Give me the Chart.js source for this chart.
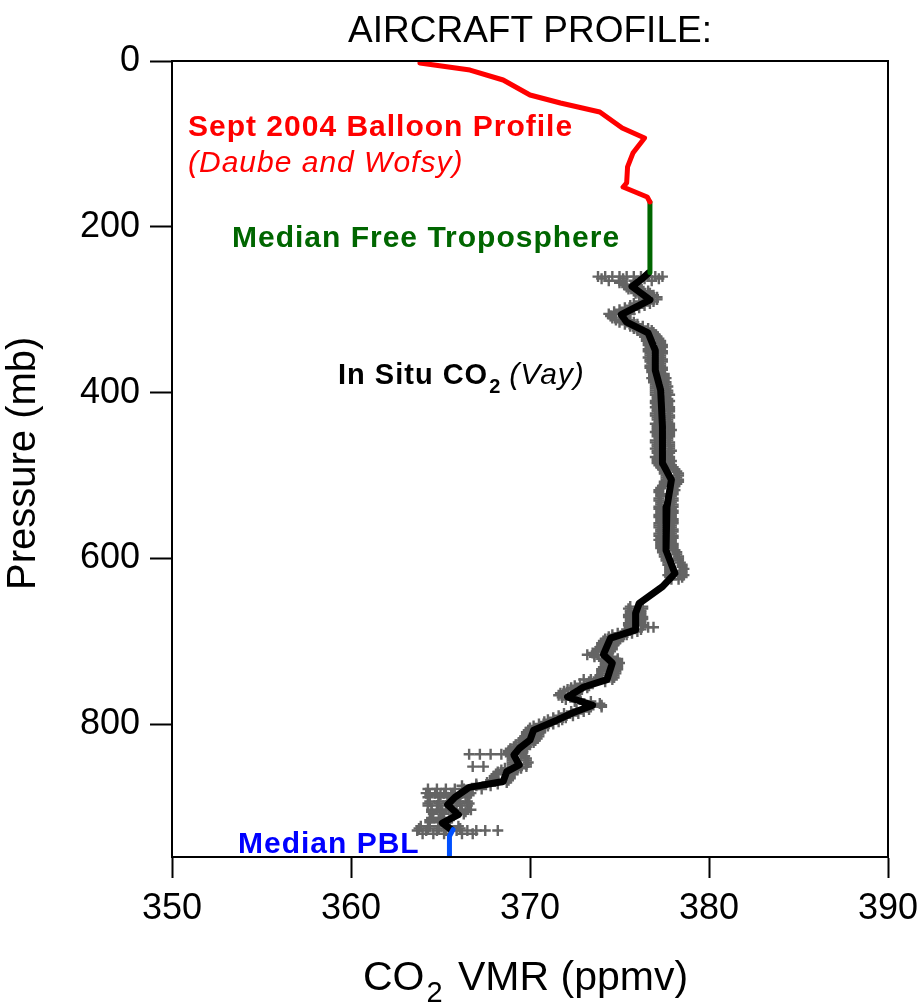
<!DOCTYPE html>
<html>
<head>
<meta charset="utf-8">
<script src="https://cdn.jsdelivr.net/npm/chart.js@4/dist/chart.umd.min.js"></script>
<style>
  html, body { margin: 0; padding: 0; background: #fff; }
  #wrap { width: 923px; height: 1005px; }
</style>
</head>
<body>
<div id="wrap"><canvas id="profileChart" width="923" height="1005"></canvas></div>
<script>
// Balloon profile (red)
const balloonP   = [2.4, 10.9, 22.9, 41.0, 50.7, 61.5, 80.8, 92.9, 111.0, 127.8, 147.1, 152.0, 164.0, 170.0];
const balloonCO2 = [363.85, 366.65, 368.5, 370.0, 371.7, 373.9, 375.15, 376.4, 375.75, 375.45, 375.4, 375.2, 376.55, 376.7];

// Median free troposphere (green)
const freeTropP   = [170, 255];
const freeTropCO2 = [376.7, 376.7];

// Median boundary layer (blue)
const pblP   = [927, 935, 960];
const pblCO2 = [365.7, 365.5, 365.5];

// Smoothed in situ profile (black)
const medianP = [256, 262, 272, 288, 306, 315, 328, 349, 373, 397, 441, 485, 505, 538, 590, 618, 634, 654, 666, 686,
                 696, 716, 726, 746, 755, 767, 777, 786, 795, 807, 819, 829, 837, 849, 857, 869, 876, 888, 897, 909, 919, 927];
const medianCO2 = [376.6, 376.3, 375.7, 376.7, 375.1, 375.4, 376.6, 377.0, 377.0, 377.3, 377.4, 377.4, 377.9, 377.65, 377.6, 378.1, 377.4, 376.1, 375.9, 375.9,
                   374.5, 374.1, 374.6, 374.3, 373.0, 372.1, 373.5, 372.4, 371.5, 370.2, 370.0, 369.4, 369.1, 369.4, 368.7, 368.5, 366.6, 365.8, 365.4, 366.0, 365.1, 365.6];

// Individual in situ measurements (grey crosses), one row per pressure level
const crossP = [
  // ascent
  260, 265, 270, 275, 280, 285, 290, 295, 300, 305, 310, 315, 320, 325, 330, 335, 340, 345, 350, 355,
  360, 365, 370, 375, 380, 385, 390, 395, 400, 405, 410, 415, 420, 425, 430, 435, 440, 445, 450, 455,
  460, 465, 470, 475, 480, 485, 490, 495, 500, 505, 510, 515, 520, 525, 530, 535, 540, 545, 550, 555,
  560, 565, 570, 575, 580, 585, 590, 595, 600, 605, 610, 615, 620, 625, 658, 663, 668, 673, 678, 683,
  688, 692, 697, 702, 707, 712, 716, 721, 726, 731, 736, 741, 746, 751, 756, 760, 765, 770, 775, 779,
  782, 787, 792, 797, 802, 807, 812, 817, 822, 827, 832, 836, 841, 846, 851, 855, 860, 865, 870, 874,
  878, 883, 888, 893, 898, 903, 908, 913, 918, 923, 928, 932,
  // descent
  262.5, 267.5, 272.5, 277.5, 282.5, 287.5, 292.5, 297.5, 302.5, 307.5, 312.5, 317.5, 322.5, 327.5, 332.5, 337.5,
  342.5, 347.5, 352.5, 357.5, 362.5, 367.5, 372.5, 377.5, 382.5, 387.5, 392.5, 397.5, 402.5, 407.5, 412.5, 417.5,
  422.5, 427.5, 432.5, 437.5, 442.5, 447.5, 452.5, 457.5, 462.5, 467.5, 472.5, 477.5, 482.5, 487.5, 492.5, 497.5,
  502.5, 507.5, 512.5, 517.5, 522.5, 527.5, 532.5, 537.5, 542.5, 547.5, 552.5, 557.5, 562.5, 567.5, 572.5, 577.5,
  582.5, 587.5, 592.5, 597.5, 602.5, 607.5, 612.5, 617.5, 622.5, 660.5, 665.5, 670.5, 675.5, 680.5, 685.5, 690,
  694.5, 699.5, 704.5, 709.5, 714, 718.5, 723.5, 728.5, 733.5, 738.5, 743.5, 748.5, 753.5, 758, 762.5, 767.5,
  772.5, 777, 784.5, 789.5, 794.5, 799.5, 804.5, 809.5, 814.5, 819.5, 824.5, 829.5, 834, 838.5, 843.5, 848.5,
  853, 857.5, 862.5, 867.5, 872, 885.5, 895.5, 905.5, 915.5, 925.5
];
const crossCO2 = [
  // ascent
  [373.8, 374.2, 374.6, 375.0, 375.4, 375.8, 376.2, 376.6, 377.0, 377.4], [374.4, 375.0, 375.8, 376.8],
  [375.3, 376.0], [375.5, 376.2], [375.9, 376.7], [376.3, 377.1], [376.1, 376.9], [375.6, 376.4], [375.0, 375.8],
  [374.4, 375.0, 375.6], [374.6, 375.3], [375.0, 375.8], [375.6, 376.3], [376.0, 376.8], [376.3, 377.0], [376.5, 377.2],
  [376.6, 377.3], [376.7, 377.4], [376.6, 377.4], [376.7, 377.3],
  [376.7, 377.4], [376.8, 377.3], [376.7, 377.4], [376.8, 377.3], [376.9, 377.5], [376.9, 377.5], [377.0, 377.6], [377.0, 377.6],
  [377.0, 377.7], [377.1, 377.6], [377.0, 377.8], [377.1, 377.7], [377.1, 377.8], [377.0, 377.7], [377.1, 377.8], [377.2, 377.7],
  [377.1, 377.8], [377.1, 377.9], [377.1, 377.8], [377.2, 377.7],
  [377.0, 377.8], [377.1, 377.8], [377.1, 377.9], [377.2, 377.7], [377.1, 377.8], [377.1, 377.8], [377.3, 378.0], [377.5, 378.2],
  [377.6, 378.3], [377.6, 378.3], [377.5, 378.2], [377.3, 378.0], [377.2, 378.0], [377.3, 377.9], [377.2, 378.0], [377.3, 378.0],
  [377.2, 377.9], [377.3, 378.0], [377.2, 377.9], [377.3, 378.0],
  [377.2, 377.9], [377.3, 378.0], [377.2, 377.9], [377.3, 378.0], [377.3, 377.9], [377.3, 378.0], [377.4, 378.1], [377.5, 378.2],
  [377.6, 378.3], [377.7, 378.4], [377.8, 378.5], [377.8, 378.5], [377.7, 378.6], [377.9, 378.3],
  [375.6, 376.3], [375.6, 376.2], [375.5, 376.2], [375.6, 376.3], [375.5, 376.2], [375.6, 376.6, 376.9],
  [375.3, 376.0], [374.6, 375.4], [374.2, 375.0], [374.0, 374.8], [373.9, 374.6], [373.7, 374.5], [373.2, 373.6, 374.2],
  [374.0, 374.9], [374.2, 375.0], [374.1, 374.9], [374.0, 374.8], [373.9, 374.7], [373.0, 373.4, 373.7, 374.6],
  [372.8, 373.5], [372.3, 373.2], [371.9, 372.7], [371.6, 372.4], [372.0, 372.8], [373.0, 373.9], [373.4, 374.0],
  [372.6, 373.3], [371.9, 372.7], [371.3, 372.0], [370.8, 371.6], [370.2, 371.0], [369.9, 370.6], [369.8, 370.5],
  [369.6, 370.4], [369.4, 370.2], [369.1, 369.8], [368.8, 369.6], [366.6, 367.2, 367.8, 368.4, 368.8, 369.5],
  [369.0, 369.8], [369.0, 369.9], [366.8, 367.4, 369.0, 369.8], [368.4, 369.3], [368.1, 369.0], [368.0, 368.9],
  [367.6, 368.7], [366.2, 367.0, 367.8],
  [364.3, 364.8, 365.3, 365.8, 366.3, 366.8, 367.3], [364.2, 364.7, 365.2, 365.7, 366.2, 366.7],
  [364.3, 364.9, 365.4, 365.9, 366.4], [364.4, 364.9, 365.4, 366.0, 366.5], [364.3, 364.8, 365.3, 365.9, 366.5],
  [364.5, 365.0, 365.6, 366.2, 366.7], [364.6, 365.2, 365.8, 366.3], [364.5, 365.0, 365.6], [364.4, 364.9, 365.4],
  [363.9, 364.4, 364.9, 365.4, 366.0], [363.7, 364.2, 364.8, 365.3, 365.9, 366.5, 367.0, 367.5, 368.2],
  [364.0, 364.6, 365.2, 366.2, 366.8],
  // descent
  [374.0, 375.2, 376.4, 377.2], [375.0, 375.9], [375.4, 376.1], [375.8, 376.6], [376.1, 376.9], [376.4, 377.1],
  [375.8, 376.7], [375.3, 376.1], [374.7, 375.5], [374.5, 375.2], [374.8, 375.6], [375.3, 376.0], [375.8, 376.6],
  [376.2, 376.9], [376.4, 377.1], [376.5, 377.3],
  [376.6, 377.4], [376.6, 377.3], [376.7, 377.4], [376.6, 377.3], [376.7, 377.4], [376.7, 377.3], [376.8, 377.4], [376.9, 377.5],
  [376.8, 377.6], [376.9, 377.6], [377.0, 377.7], [377.0, 377.7], [377.0, 377.8], [377.1, 377.7], [377.0, 377.7], [377.0, 377.8],
  [377.1, 377.8], [377.0, 377.8], [377.1, 377.7], [377.0, 377.8], [377.1, 377.8], [377.0, 377.8], [377.1, 377.8], [377.0, 377.7],
  [377.1, 377.8], [377.0, 377.8], [377.1, 377.8], [377.0, 377.8], [377.1, 377.9], [377.2, 377.9], [377.4, 378.1], [377.5, 378.3],
  [377.6, 378.2], [377.5, 378.3], [377.4, 378.1], [377.2, 378.1], [377.3, 378.0], [377.2, 378.0], [377.3, 377.9], [377.2, 378.0],
  [377.3, 378.0], [377.2, 377.9], [377.3, 378.0], [377.2, 378.0], [377.2, 377.9], [377.3, 378.0], [377.2, 378.0], [377.2, 377.9],
  [377.3, 378.0], [377.3, 378.0], [377.4, 378.2], [377.5, 378.3], [377.6, 378.3], [377.7, 378.5], [377.8, 378.6], [377.8, 378.5],
  [377.8, 378.5], [375.5, 376.3], [375.6, 376.2], [375.5, 376.3], [375.6, 376.2], [375.5, 376.3], [375.4, 376.2], [374.9, 375.7],
  [374.4, 375.2], [374.1, 374.9], [374.0, 374.7], [373.8, 374.6], [373.5, 374.4], [373.6, 374.6], [374.1, 374.9], [374.2, 374.9],
  [374.0, 374.9], [374.0, 374.8], [373.8, 374.7], [373.3, 374.2], [372.5, 373.3], [372.1, 372.9], [371.7, 372.6], [371.8, 372.6],
  [372.5, 373.4], [373.2, 374.0], [372.3, 373.0], [371.6, 372.4], [371.0, 371.8], [370.5, 371.3], [370.0, 370.8], [369.8, 370.6],
  [369.7, 370.5], [369.5, 370.3], [369.2, 370.0], [368.9, 369.7], [368.8, 369.6], [368.9, 369.7], [369.0, 369.8], [369.0, 369.8],
  [368.6, 369.5], [368.2, 369.1], [368.0, 368.9], [367.8, 368.8], [367.0, 368.2],
  [364.4, 365.0, 365.6, 366.1, 366.6], [364.3, 364.9, 365.5, 366.1, 366.6], [364.5, 365.1, 365.7, 366.4],
  [364.4, 364.9, 365.5], [363.8, 364.3, 364.9, 365.5, 366.1]
];

// Axis ranges and ticks
const xTicks = [350, 360, 370, 380, 390];
const yTicks = [0, 200, 400, 600, 800];
const pressureMax = 960;

const FONT = "'Liberation Sans', Arial, sans-serif";

function toPoints(xs, ys) {
    return xs.map((x, i) => ({ x: x, y: ys[i] }));
}

const crossPoints = [];
crossP.forEach((p, i) => {
    crossCO2[i].forEach(v => crossPoints.push({ x: v, y: p }));
});

// Frame, title, axis titles and in-plot labels
const annotations = {
    id: 'annotations',
    afterDraw(chart) {
        const ctx = chart.ctx;
        const a = chart.chartArea;
        ctx.save();

        ctx.strokeStyle = '#000';
        ctx.lineWidth = 2;
        ctx.strokeRect(a.left, a.top, a.right - a.left, a.bottom - a.top);

        ctx.textBaseline = 'alphabetic';
        ctx.fillStyle = '#000';
        ctx.font = `37px ${FONT}`;
        ctx.textAlign = 'center';
        ctx.fillText('AIRCRAFT PROFILE:', (a.left + a.right) / 2, 42);

        // x axis title with subscript
        ctx.textAlign = 'left';
        let x = 363;
        ctx.font = `41px ${FONT}`;
        ctx.fillText('CO', x, 990);
        x += ctx.measureText('CO').width + 2;
        ctx.font = `29px ${FONT}`;
        ctx.fillText('2', x, 1002);
        x += ctx.measureText('2').width + 4;
        ctx.font = `41px ${FONT}`;
        ctx.fillText(' VMR (ppmv)', x, 990);

        // y axis title
        ctx.save();
        ctx.translate(35, 590);
        ctx.rotate(-Math.PI / 2);
        ctx.font = `40px ${FONT}`;
        ctx.fillText('Pressure (mb)', 0, 0);
        ctx.restore();

        ctx.letterSpacing = '1px';
        ctx.fillStyle = '#ff0000';
        ctx.font = `bold 30px ${FONT}`;
        ctx.fillText('Sept 2004 Balloon Profile', 188, 136);
        ctx.font = `italic 30px ${FONT}`;
        ctx.fillText('(Daube and Wofsy)', 188, 172);

        ctx.fillStyle = '#006600';
        ctx.font = `bold 30px ${FONT}`;
        ctx.fillText('Median Free Troposphere', 232, 247);

        ctx.fillStyle = '#0000ff';
        ctx.fillText('Median PBL', 238, 853);

        ctx.fillStyle = '#000';
        x = 338;
        ctx.font = `bold 29px ${FONT}`;
        ctx.fillText('In Situ CO', x, 384);
        x += ctx.measureText('In Situ CO').width;
        ctx.font = `bold 20px ${FONT}`;
        ctx.fillText('2', x + 1, 393);
        x += ctx.measureText('2').width + 9;
        ctx.font = `italic 30px ${FONT}`;
        ctx.fillText('(Vay)', x, 384);

        ctx.restore();
    }
};

const lineStyle = (color, width) => ({
    showLine: true,
    borderColor: color,
    backgroundColor: color,
    borderWidth: width,
    pointRadius: 0,
    tension: 0,
    borderJoinStyle: 'round',
    borderCapStyle: 'round'
});

new Chart(document.getElementById('profileChart'), {
    type: 'scatter',
    data: {
        datasets: [
            Object.assign({ label: 'Median', data: toPoints(medianCO2, medianP), order: 2 }, lineStyle('#000000', 7)),
            Object.assign({ label: 'Balloon', data: toPoints(balloonCO2, balloonP), order: 1 }, lineStyle('#ff0000', 5)),
            Object.assign({ label: 'Free troposphere', data: toPoints(freeTropCO2, freeTropP), order: 1 }, lineStyle('#006600', 5)),
            Object.assign({ label: 'PBL', data: toPoints(pblCO2, pblP), order: 1 }, lineStyle('#0050ff', 5)),
            {
                label: 'In situ',
                data: crossPoints,
                order: 5,
                showLine: false,
                pointStyle: 'cross',
                pointRadius: 5.5,
                borderWidth: 2.4,
                borderColor: '#646464',
                backgroundColor: '#646464'
            }
        ]
    },
    options: {
        responsive: false,
        animation: false,
        layout: { padding: { top: 61, right: 35, bottom: 0, left: 0 } },
        plugins: {
            legend: { display: false },
            tooltip: { enabled: false }
        },
        scales: {
            x: {
                type: 'linear',
                min: xTicks[0],
                max: xTicks[xTicks.length - 1],
                afterBuildTicks: scale => { scale.ticks = xTicks.map(v => ({ value: v })); },
                afterFit: scale => {
                    scale.height = 148;
                    // keep the end labels from pushing the plot edges inward
                    scale.paddingLeft = 0;
                    scale.paddingRight = 0;
                },
                border: { display: true, color: '#000', width: 2 },
                grid: { drawOnChartArea: false, drawTicks: true, tickLength: 21, tickWidth: 2, tickColor: '#000' },
                ticks: { color: '#000', padding: 9, font: { family: FONT, size: 36 }, maxRotation: 0 }
            },
            y: {
                type: 'linear',
                reverse: true,
                min: 0,
                max: pressureMax,
                afterBuildTicks: scale => { scale.ticks = yTicks.map(v => ({ value: v })); },
                afterFit: scale => { scale.width = 172; },
                border: { display: true, color: '#000', width: 2 },
                grid: { drawOnChartArea: false, drawTicks: true, tickLength: 22, tickWidth: 2, tickColor: '#000' },
                ticks: { color: '#000', padding: 10, font: { family: FONT, size: 36 } }
            }
        }
    },
    plugins: [annotations]
});
</script>
</body>
</html>
